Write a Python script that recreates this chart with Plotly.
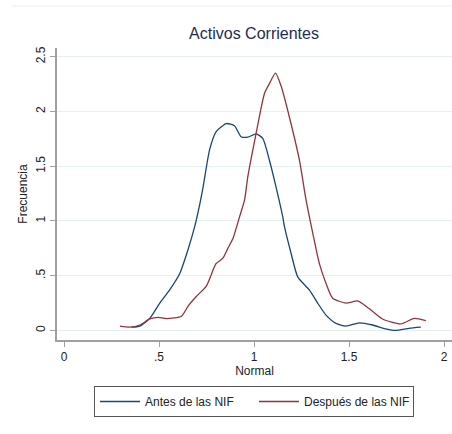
import plotly.graph_objects as go

title = "Activos Corrientes"
x_title = "Normal"
y_title = "Frecuencia"
series_names = ["Antes de las NIF", "Después de las NIF"]

antes_x = [0.355, 0.399, 0.451, 0.504, 0.556, 0.609, 0.652, 0.688, 0.714, 0.731, 0.766, 0.80, 0.854,
           0.897, 0.932, 0.967, 1.011, 1.046, 1.081, 1.116, 1.151, 1.16, 1.195, 1.23, 1.291, 1.335,
           1.379, 1.431, 1.484, 1.554, 1.624, 1.694, 1.746, 1.816, 1.878]
antes_y = [0.03, 0.04, 0.11, 0.25, 0.37, 0.52, 0.735, 0.95, 1.15, 1.30, 1.65, 1.815, 1.89,
           1.87, 1.77, 1.765, 1.795, 1.755, 1.555, 1.31, 1.04, 0.95, 0.705, 0.49, 0.37, 0.25,
           0.14, 0.065, 0.04, 0.07, 0.05, 0.014, 0.0, 0.02, 0.03]

despues_x = [0.294, 0.346, 0.399, 0.451, 0.495, 0.539, 0.618, 0.652, 0.696, 0.749, 0.80, 0.836,
             0.862, 0.889, 0.924, 0.95, 0.967, 1.011, 1.055, 1.081, 1.113, 1.143, 1.186, 1.239,
             1.274, 1.309, 1.344, 1.379, 1.414, 1.484, 1.545, 1.606, 1.676, 1.773, 1.843, 1.904]
despues_y = [0.04, 0.03, 0.05, 0.105, 0.12, 0.108, 0.13, 0.22, 0.31, 0.405, 0.61, 0.66,
             0.75, 0.84, 1.04, 1.19, 1.40, 1.80, 2.165, 2.255, 2.35, 2.23, 1.95, 1.555,
             1.19, 0.89, 0.61, 0.43, 0.295, 0.25, 0.27, 0.20, 0.105, 0.06, 0.11, 0.09]

x_ticks = [0, 0.5, 1, 1.5, 2]
x_labels = ["0", ".5", "1", "1.5", "2"]
y_ticks = [0, 0.5, 1, 1.5, 2, 2.5]
y_labels = ["0", ".5", "1", "1.5", "2", "2.5"]

colors = ["#1a476f", "#90353b"]
FONT = "Liberation Sans, Arial, sans-serif"

fig = go.Figure()
fig.add_trace(go.Scatter(x=antes_x, y=antes_y, mode="lines", name=series_names[0],
                         line=dict(color=colors[0], width=1.3, shape="spline", smoothing=0.6)))
fig.add_trace(go.Scatter(x=despues_x, y=despues_y, mode="lines", name=series_names[1],
                         line=dict(color=colors[1], width=1.3, shape="spline", smoothing=0.6)))

fig.update_layout(
    width=452, height=434,
    margin=dict(l=57, r=0, t=48, b=94),
    paper_bgcolor="white", plot_bgcolor="white",
    font=dict(family=FONT, color="#222222", size=12),
    title=dict(text=title, x=(254) / 452, xanchor="center", y=1 - 33 / 434, yanchor="middle",
               font=dict(size=16, color="#1e2d4f", family=FONT)),
    xaxis=dict(range=[-0.037, 2.042], tickvals=x_ticks, ticktext=x_labels,
               showgrid=False, zeroline=False, showline=True, linecolor="#a0a0a0", linewidth=1.5,
               ticks="outside", ticklen=5, tickcolor="#a0a0a0",
               tickfont=dict(size=12, color="#222222"),
               title=dict(text=x_title, standoff=2, font=dict(size=12, color="#222222"))),
    yaxis=dict(range=[-0.087, 2.58], tickvals=y_ticks, ticktext=y_labels, tickangle=-90,
               showgrid=True, gridcolor="#e6eff1", gridwidth=1.2, zeroline=False,
               showline=True, linecolor="#a0a0a0", linewidth=1.5,
               ticks="outside", ticklen=5, tickcolor="#a0a0a0",
               tickfont=dict(size=12, color="#222222"),
               title=dict(text=y_title, standoff=4, font=dict(size=12, color="#222222"))),
    legend=dict(orientation="h", x=(254 - 57) / 395, xanchor="center",
                y=-(386 - 340) / 292, yanchor="top",
                bordercolor="#555555", borderwidth=1, bgcolor="white",
                font=dict(size=12, color="#222222"), entrywidth=104, itemwidth=40),
    shapes=[dict(type="line", xref="paper", yref="paper", x0=-45 / 395, x1=1.0,
                 y0=(340 - 6) / 292, y1=(340 - 6) / 292,
                 line=dict(color="#e8eef0", width=1))],
)

fig.write_html("out.html")
